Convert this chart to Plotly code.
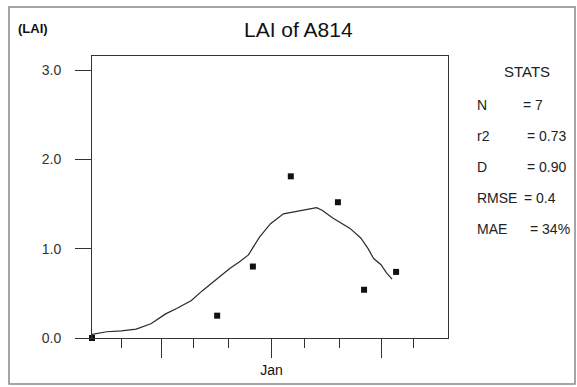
import plotly.graph_objects as go

# ---- data ----
obs_day = [0, 34, 43.7, 54, 66.8, 73.9, 82.6]
obs_lai = [0.0, 0.25, 0.80, 1.81, 1.52, 0.54, 0.74]

sim_day = [0, 4, 8, 12, 16, 20, 23, 27, 30, 34, 37.5, 40, 42.5, 45.5, 48.5, 52,
           56, 59, 61, 62.5, 65.5, 70, 73, 75, 76.5, 78.5, 80, 81.5]
sim_lai = [0.04, 0.07, 0.08, 0.10, 0.16, 0.27, 0.33, 0.42, 0.53, 0.66, 0.78, 0.85,
           0.93, 1.13, 1.28, 1.39, 1.42, 1.44, 1.46, 1.43, 1.34, 1.23, 1.12, 1.00,
           0.89, 0.82, 0.73, 0.66]

major_ticks = [18.75, 48.75, 78.75]
major_labels = ["", "Jan", ""]
minor_ticks = [8, 27.5, 37.2, 57.6, 67.1, 87.2]
y_ticks = [0, 1, 2, 3]

stat_labels = ["N", "r2", "D", "RMSE", "MAE"]
stat_values = ["= 7", "= 0.73", "= 0.90", "= 0.4", "= 34%"]

title_text = "LAI of A814"
y_unit = "(LAI)"

# ---- layout geometry ----
W, H = 577, 387
L, R, T, B = 92, 448, 56, 338


def px(x):
    return (x - L) / (R - L)


def py(y):
    return (B - y) / (B - T)


font = "Arial, 'Liberation Sans', sans-serif"
ink = "#222222"

fig = go.Figure()
fig.add_trace(go.Scatter(x=sim_day, y=sim_lai, mode="lines",
                         line=dict(color="#2a2a2a", width=1.2),
                         showlegend=False, hoverinfo="skip"))
fig.add_trace(go.Scatter(x=obs_day, y=obs_lai, mode="markers",
                         marker=dict(symbol="square", size=6, color="#111111"),
                         cliponaxis=False, showlegend=False))

fig.update_layout(
    width=W, height=H,
    margin=dict(l=L, r=W - R, t=T, b=H - B, pad=0),
    paper_bgcolor="white", plot_bgcolor="white",
    font=dict(family=font, color=ink),
    xaxis=dict(range=[0, 96.7], showgrid=False, zeroline=False,
               showline=True, mirror=True, linecolor="#333", linewidth=1,
               tickmode="array", tickvals=major_ticks, ticktext=major_labels,
               ticks="outside", ticklen=19, tickcolor="#333", tickwidth=1,
               tickfont=dict(size=14, family=font, color="#111"),
               minor=dict(tickmode="array", tickvals=minor_ticks, ticks="outside",
                          ticklen=9, tickcolor="#333", tickwidth=1),
               automargin=False, fixedrange=True),
    yaxis=dict(range=[0, 3.157], showgrid=False, zeroline=False,
               showline=True, mirror=True, linecolor="#333", linewidth=1,
               tickmode="array", tickvals=y_ticks, tickformat=".1f",
               ticks="outside", ticklen=16, tickcolor="#333", tickwidth=1,
               ticklabelstandoff=11,
               tickfont=dict(size=14, family=font, color="#333"),
               automargin=False, fixedrange=True),
)

annotations = [
    dict(text=title_text, x=px(298), y=py(29), xref="paper", yref="paper",
         xanchor="center", yanchor="middle", showarrow=False,
         font=dict(size=21, family=font, color="#111")),
    dict(text="<b>" + y_unit + "</b>", x=px(16), y=py(28), xref="paper", yref="paper",
         xanchor="left", yanchor="middle", showarrow=False,
         font=dict(size=13, family=font, color="#111")),
    dict(text="STATS", x=px(527), y=py(71), xref="paper", yref="paper",
         xanchor="center", yanchor="middle", showarrow=False,
         font=dict(size=15, family=font, color=ink)),
]
row_y = [105, 136, 167, 198, 229]
val_x = [521, 525, 525, 522, 528]
for lab, val, yy, vx in zip(stat_labels, stat_values, row_y, val_x):
    annotations.append(dict(text=lab, x=px(475), y=py(yy), xref="paper", yref="paper",
                            xanchor="left", yanchor="middle", showarrow=False,
                            font=dict(size=14, family=font, color=ink)))
    annotations.append(dict(text=val, x=px(vx), y=py(yy), xref="paper", yref="paper",
                            xanchor="left", yanchor="middle", showarrow=False,
                            font=dict(size=14, family=font, color=ink)))
fig.update_layout(annotations=annotations)

fig.add_shape(type="rect", xref="paper", yref="paper",
              x0=px(9), x1=px(575), y0=py(384), y1=py(7),
              line=dict(color="#888", width=1.5), layer="below")

fig.write_html(
    "out.html",
    config={"displayModeBar": False},
    post_script="document.body.style.margin='0';document.body.style.overflow='hidden';",
)
